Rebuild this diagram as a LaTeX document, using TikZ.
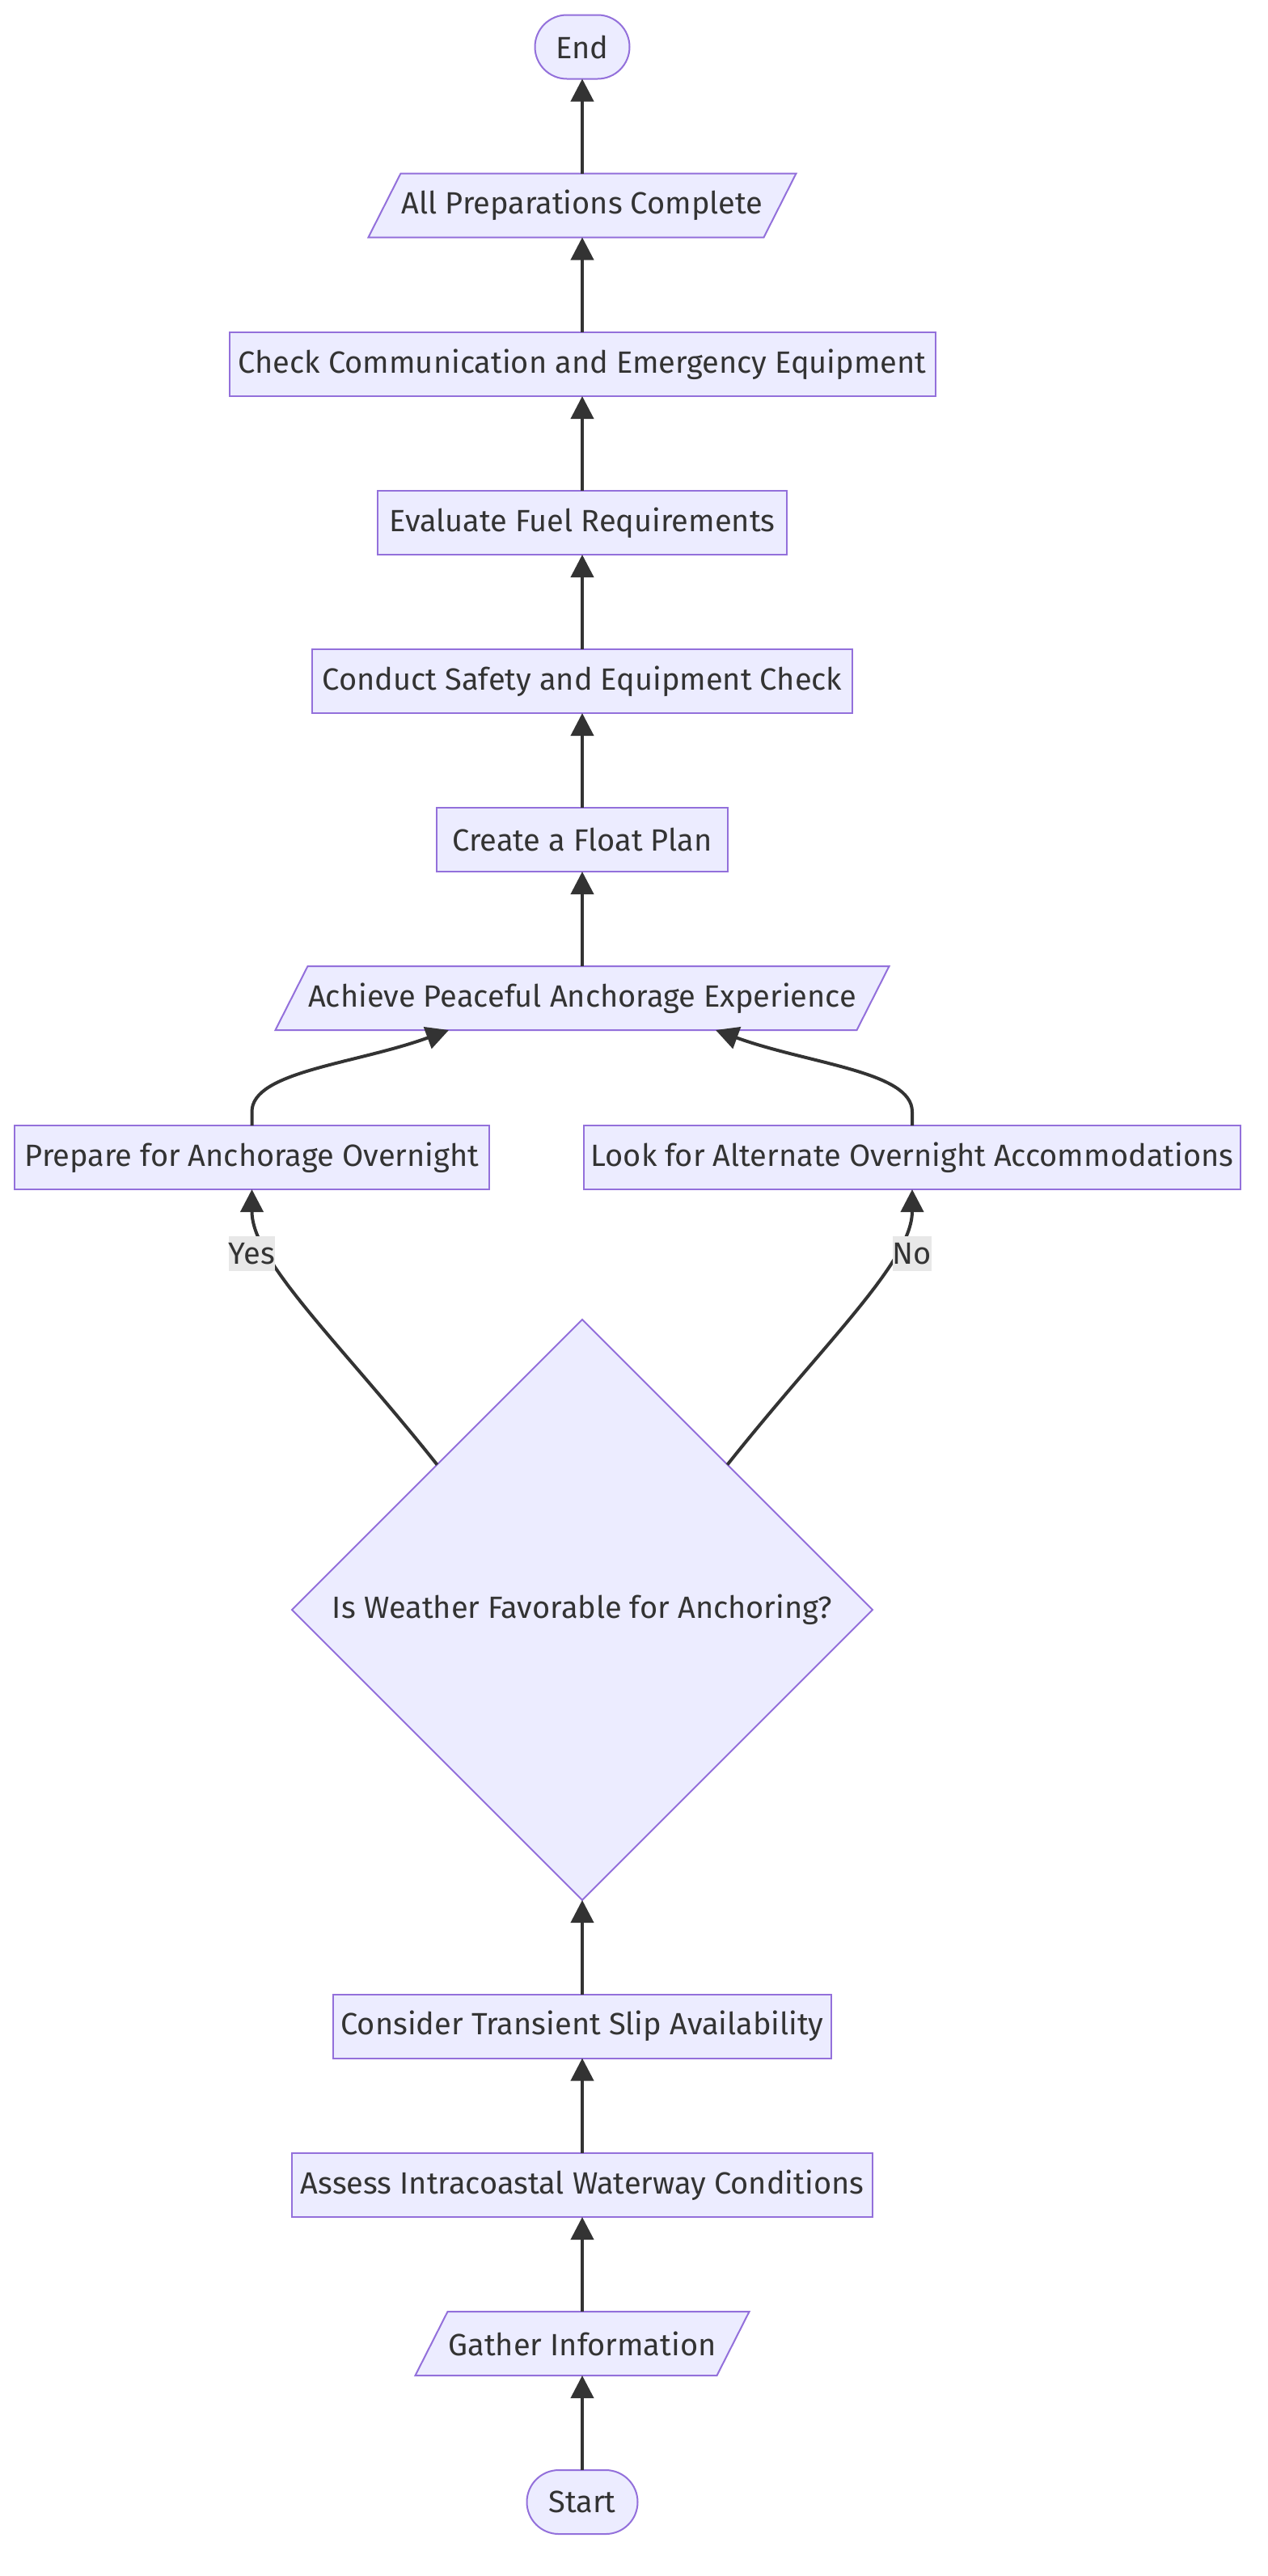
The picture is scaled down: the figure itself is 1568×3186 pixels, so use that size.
\documentclass[tikz,border=0pt]{standalone}
\usepackage{fontspec}
\setmainfont{Fira Sans}
\usetikzlibrary{shapes.geometric,arrows.meta,calc}
\definecolor{nfill}{HTML}{ECECFF}
\definecolor{nline}{HTML}{9370DB}
\definecolor{ink}{HTML}{333333}
\definecolor{lblbg}{HTML}{E8E8E8}
\pgfdeclarelayer{back}
\pgfdeclarelayer{bg}
\pgfsetlayers{back,bg,main}
\tikzset{
  base/.style={inner sep=0pt, outer sep=0pt, text=ink, font=\fontsize{19}{23}\selectfont, minimum height=39.5pt},
  box/.style={base, rectangle, draw=nline, fill=nfill, line width=1pt},
  pill/.style={box, rounded corners=19.75pt},
  paratext/.style={base, rectangle},
  para/.style={draw=nline, fill=nfill, line width=1pt},
  decision/.style={base, diamond, draw=nline, fill=nfill, line width=1pt, aspect=1, minimum width=359pt, minimum height=359pt},
  edgelabel/.style={base, fill=lblbg, minimum height=21.5pt},
  arr/.style={draw=ink, line width=2pt, -{Triangle[length=14pt,width=14pt]}},
}
\begin{document}
\begin{tikzpicture}[x=0.5pt, y=-0.5pt]
\useasboundingbox (0,0) rectangle (1568,3186);
\begin{pgfonlayer}{back}
\fill[white] (0,0) rectangle (1568,3186);
\end{pgfonlayer}

% nodes
\node[pill, minimum width=58.5pt] (endn) at (720,58) {End};
\node[paratext, minimum width=244.5pt] (apc) at (720,254) {All Preparations Complete};
\node[box, minimum width=436.5pt] (chk) at (720,450.5) {Check Communication and Emergency Equipment};
\node[box, minimum width=253pt] (evl) at (720,646.5) {Evaluate Fuel Requirements};
\node[box, minimum width=334pt] (cnd) at (720,842.5) {Conduct Safety and Equipment Check};
\node[box, minimum width=180pt] (flt) at (720,1038.5) {Create a Float Plan};
\node[paratext, minimum width=359.5pt] (ach) at (720,1234.5) {Achieve Peaceful Anchorage Experience};
\node[box, minimum width=293.5pt] (prp) at (311.5,1431.5) {Prepare for Anchorage Overnight};
\node[box, minimum width=406pt] (lok) at (1128,1431.5) {Look for Alternate Overnight Accommodations};
\node[decision] (dia) at (720,1991) {Is Weather Favorable for Anchoring?};
\node[box, minimum width=308pt] (cns) at (720,2506) {Consider Transient Slip Availability};
\node[box, minimum width=359pt] (asm) at (720,2702.5) {Assess Intracoastal Waterway Conditions};
\node[paratext, minimum width=186.5pt] (gat) at (720,2898.5) {Gather Information};
\node[pill, minimum width=68.5pt] (sta) at (720,3094.5) {Start};

% parallelogram outlines behind their text
\begin{pgfonlayer}{bg}
\foreach \n in {apc,ach,gat}
  \path[para] ([xshift=10pt]\n.north west) -- ([xshift=10pt]\n.north east)
    -- ([xshift=-10pt]\n.south east) -- ([xshift=-10pt]\n.south west) -- cycle;
\end{pgfonlayer}

% connectors
\draw[arr] (apc.north) -- (endn.south);
\draw[arr] (chk.north) -- (apc.south);
\draw[arr] (evl.north) -- (chk.south);
\draw[arr] (cnd.north) -- (evl.south);
\draw[arr] (flt.north) -- (cnd.south);
\draw[arr] (ach.north) -- (flt.south);
\draw[arr] (prp.north) -- ++(0,-17) .. controls +(0,-50) and +(-115,42) .. ($(ach.south)+(-165,0)$);
\draw[arr] (lok.north) -- ++(0,-17) .. controls +(0,-50) and +(115,42) .. ($(ach.south)+(165,0)$);
\draw[arr] (dia.north west) .. controls +(-120,-151) and +(0,89) .. (prp.south);
\draw[arr] (dia.north east) .. controls +(120,-151) and +(0,89) .. (lok.south);
\draw[arr] (cns.north) -- (dia.south);
\draw[arr] (asm.north) -- (cns.south);
\draw[arr] (gat.north) -- (asm.south);
\draw[arr] (sta.north) -- (gat.south);

% edge labels
\node[edgelabel, minimum width=26.5pt] (yes) at (311.5,1550.5) {Yes};
\node[edgelabel, minimum width=22pt] (no) at (1128,1550.5) {No};
\end{tikzpicture}
\end{document}
